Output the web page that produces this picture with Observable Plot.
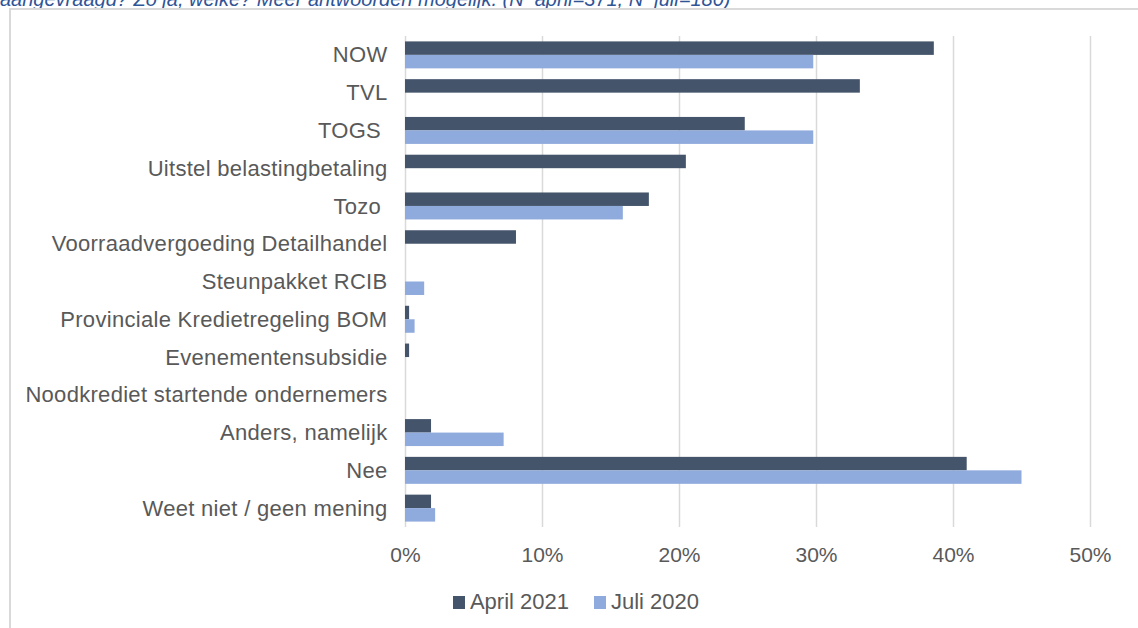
<!DOCTYPE html>
<html>
<head>
<meta charset="utf-8">
<script src="https://cdn.jsdelivr.net/npm/d3@7"></script>
<script src="https://cdn.jsdelivr.net/npm/@observablehq/plot@0.6"></script>
<style>
  html, body { margin: 0; padding: 0; background: #fff; }
  body { width: 1138px; height: 628px; position: relative; overflow: hidden; font-family: "Liberation Sans", Arial, sans-serif; }
  #title { position: absolute; left: 0; top: -11px; line-height: 21px; font-size: 20px; font-style: italic; color: #2F5597; white-space: nowrap; }
  #frame { position: absolute; left: 9px; top: 8px; width: 1200px; height: 700px; border-top: 2px solid #d9d9d9; border-left: 2px solid #d9d9d9; box-sizing: border-box; }
  #chart { position: absolute; left: 0; top: 0; }
  #chart g[aria-label="y-axis tick label"] text { letter-spacing: 0.3px; }
  #legend { position: absolute; left: 0; width: 1138px; top: 589px; display: flex; justify-content: center; gap: 25px; font-size: 22px; color: #595959; padding-left: 14px; box-sizing: border-box; }
  .item { display: flex; align-items: center; gap: 5px; }
  .sw { width: 12px; height: 13px; display: inline-block; }
</style>
</head>
<body>
<div id="title">aangevraagd? Zo ja, welke? Meer antwoorden mogelijk. (N_april=371, N_juli=180)</div>
<div id="frame"></div>
<div id="chart"></div>
<div id="legend"></div>
<script>
const categories = [
  "NOW", "TVL", "TOGS ", "Uitstel belastingbetaling", "Tozo ",
  "Voorraadvergoeding Detailhandel", "Steunpakket RCIB",
  "Provinciale Kredietregeling BOM", "Evenementensubsidie",
  "Noodkrediet startende ondernemers", "Anders, namelijk", "Nee",
  "Weet niet / geen mening"
];
const april2021 = [38.6, 33.2, 24.8, 20.5, 17.8, 8.1, 0, 0.3, 0.3, 0, 1.9, 41.0, 1.9];
const juli2020  = [29.8, 0, 29.8, 0, 15.9, 0, 1.4, 0.7, 0, 0, 7.2, 45.0, 2.2];
const seriesNames = ["April 2021", "Juli 2020"];
const seriesColors = ["#44546A", "#8FAADC"];
const xTicks = [0, 10, 20, 30, 40, 50];

const rowsApril = categories.map((c, i) => ({category: c, value: april2021[i]}));
const rowsJuli = categories.map((c, i) => ({category: c, value: juli2020[i]}));

const W = 1138, H = 570, mTop = 36, mBottom = 43;
const band = (H - mTop - mBottom) / categories.length;
const outer = band * 0.143;
const half = band / 2;

const chart = Plot.plot({
  width: W,
  height: H,
  marginTop: mTop,
  marginBottom: mBottom,
  marginLeft: 405,
  marginRight: 48,
  style: { fontFamily: "'Liberation Sans', Arial, sans-serif", fontSize: "21px", color: "#595959", background: "transparent" },
  x: { domain: [0, 50] },
  y: { domain: categories, padding: 0, round: false },
  marks: [
    Plot.gridX(xTicks, { stroke: "#d9d9d9", strokeOpacity: 1, strokeWidth: 1.5 }),
    Plot.barX(rowsApril, { x: "value", y: "category", fill: seriesColors[0], insetTop: outer, insetBottom: half }),
    Plot.barX(rowsJuli, { x: "value", y: "category", fill: seriesColors[1], insetTop: half, insetBottom: outer }),
    Plot.axisX({ ticks: xTicks, tickSize: 0, tickPadding: 20, tickFormat: d => d + "%", label: null, fill: "#595959", fontSize: 21 }),
    Plot.axisY({ tickSize: 0, tickPadding: 18, label: null, fill: "#595959", fontSize: 22 })
  ]
});
document.getElementById("chart").appendChild(chart);

const legend = document.getElementById("legend");
seriesNames.forEach((name, i) => {
  const item = document.createElement("div");
  item.className = "item";
  const sw = document.createElement("span");
  sw.className = "sw";
  sw.style.background = seriesColors[i];
  const label = document.createElement("span");
  label.textContent = name;
  item.appendChild(sw);
  item.appendChild(label);
  legend.appendChild(item);
});
</script>
</body>
</html>
